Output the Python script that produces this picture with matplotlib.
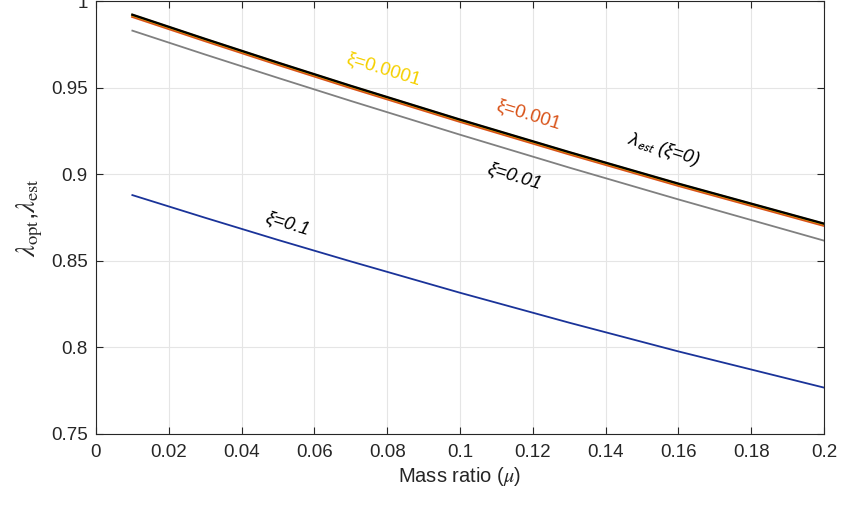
import numpy as np
import matplotlib
matplotlib.use("Agg")
import matplotlib.pyplot as plt
from matplotlib.ticker import FuncFormatter

plt.rcParams['font.family'] = ['Liberation Sans', 'DejaVu Sans']
plt.rcParams['mathtext.fontset'] = 'stix'

# Mass ratio samples
mu = [0.01, 0.03, 0.05, 0.07, 0.10, 0.13, 0.16, 0.20]

# lambda values
lam_est = [0.9922, 0.9782, 0.9645, 0.9511, 0.9316, 0.9128, 0.8946, 0.8715]   # xi = 0
lam_0001 = [0.9920, 0.9780, 0.9643, 0.9509, 0.9314, 0.9126, 0.8944, 0.8713]  # xi = 0.0001
lam_001 = [0.9910, 0.9770, 0.9633, 0.9499, 0.9304, 0.9116, 0.8934, 0.8703]   # xi = 0.001
lam_01 = [0.9830, 0.9692, 0.9557, 0.9424, 0.9229, 0.9039, 0.8855, 0.8617]    # xi = 0.01
lam_1 = [0.8880, 0.8749, 0.8621, 0.8497, 0.8316, 0.8143, 0.7977, 0.7768]     # xi = 0.1

c_yellow = '#f5d000'
c_orange = '#d95319'
c_gray = '#808080'
c_blue = '#1a3399'

fig = plt.figure(figsize=(8.44, 5.05), dpi=100)
ax = fig.add_axes([0.1137, 0.1406, 0.8626, 0.857])

ax.plot(mu, lam_1, color=c_blue, lw=1.3)
ax.plot(mu, lam_01, color=c_gray, lw=1.3)
ax.plot(mu, lam_001, color=c_orange, lw=1.7)
ax.plot(mu, lam_0001, color=c_yellow, lw=1.7)
ax.plot(mu, lam_est, color='black', lw=1.7)

rot = -17
fs = 13.5
ax.text(0.0789, 0.9605, 'ξ=0.0001', color=c_yellow, fontsize=fs,
        rotation=rot, ha='center', va='center')
ax.text(0.1187, 0.9345, 'ξ=0.001', color=c_orange, fontsize=fs,
        rotation=rot, ha='center', va='center')
ax.text(0.1151, 0.8992, 'ξ=0.01', color='black', fontsize=fs,
        rotation=rot, ha='center', va='center', style='italic')
ax.text(0.1560, 0.9143, r'λ$_{\mathsf{est}}$ (ξ=0)', color='black', fontsize=fs,
        rotation=rot, ha='center', va='center', style='italic')
ax.text(0.0527, 0.8715, 'ξ=0.1', color='black', fontsize=fs,
        rotation=rot, ha='center', va='center', style='italic')

ax.set_xlim(0, 0.2)
ax.set_ylim(0.75, 1.0)
ax.set_xticks(np.arange(0, 0.2001, 0.02))
ax.set_yticks(np.arange(0.75, 1.0001, 0.05))
fmt = FuncFormatter(lambda v, p: '%g' % round(v, 4))
ax.xaxis.set_major_formatter(fmt)
ax.yaxis.set_major_formatter(fmt)

ax.grid(True, color='#e5e5e5', lw=0.8)
ax.set_axisbelow(True)
ax.tick_params(direction='in', top=True, right=True, length=5, width=0.8,
               labelsize=13.5, colors='#262626')
ax.tick_params(axis='x', pad=7)
ax.tick_params(axis='y', pad=6)
for s in ax.spines.values():
    s.set_color('#262626')
    s.set_linewidth(0.8)

ax.set_xlabel(r'Mass ratio ($\mu$)', fontsize=14.5, color='#262626', labelpad=3)
ax.set_ylabel(r'$\lambda_{\rm opt}$,$\lambda_{\rm est}$', fontsize=19, color='#262626',
              labelpad=4)

fig.savefig('out.png', dpi=100)
